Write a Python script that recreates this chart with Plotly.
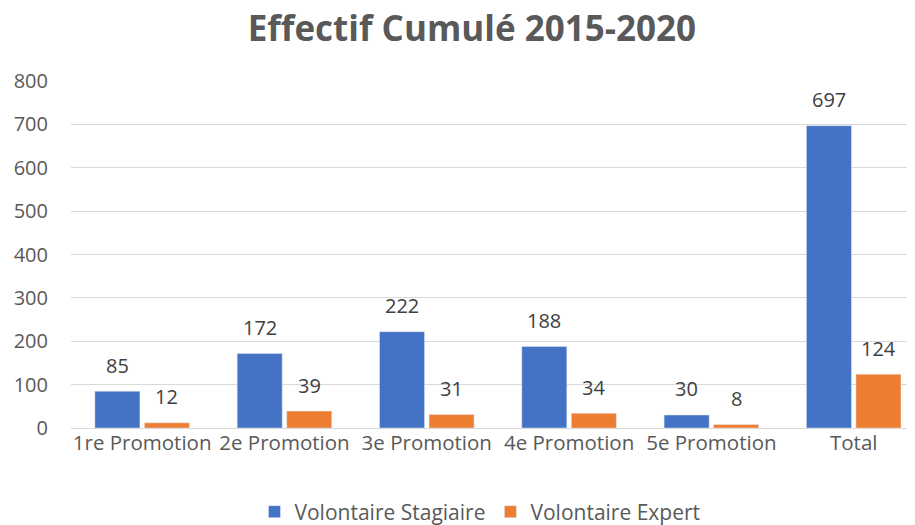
import plotly.graph_objects as go

categories = ["1re Promotion", "2e Promotion", "3e Promotion", "4e Promotion", "5e Promotion", "Total"]
stagiaire = [85, 172, 222, 188, 30, 697]
expert = [12, 39, 31, 34, 8, 124]
y_ticks = [0, 100, 200, 300, 400, 500, 600, 700, 800]

FONT = "Open Sans"
TXT = "#595959"
LBL = "#404040"

fig = go.Figure()
fig.add_trace(go.Bar(
    x=categories, y=stagiaire, name="Volontaire Stagiaire",
    marker=dict(color="#4472C4"),
))
fig.add_trace(go.Bar(
    x=categories, y=expert, name="Volontaire Expert",
    marker=dict(color="#ED7D31"),
))

# data labels above bars
for vals, shift in ((stagiaire, -24.8), (expert, 24.8)):
    for c, v in zip(categories, vals):
        fig.add_annotation(x=c, y=v, xref="x", yref="y", text=str(v),
                           showarrow=False, xshift=shift, yshift=26,
                           yanchor="middle",
                           font=dict(family=FONT, size=20, color=LBL))

fig.update_layout(
    width=915, height=525,
    paper_bgcolor="white", plot_bgcolor="white",
    margin=dict(l=63, r=0, t=73, b=105),
    title=dict(text="<b>Effectif Cumulé 2015-2020</b>", x=0.507, xanchor="center",
               y=0.96, yanchor="middle",
               font=dict(family=FONT, size=35, color=TXT)),
    barmode="group", bargap=0.304, bargroupgap=0.09,
    showlegend=True,
    legend=dict(orientation="h", x=0.48, xanchor="center", y=-0.183, yanchor="top",
                font=dict(family=FONT, size=21, color=TXT), itemwidth=30,
                traceorder="normal"),
    xaxis=dict(range=[-0.5, 5.487], showgrid=False, showline=False, ticks="",
               automargin=False,
               tickfont=dict(family=FONT, size=20.5, color=TXT)),
    yaxis=dict(range=[0, 800], tickvals=y_ticks, showgrid=True, gridcolor="#D9D9D9",
               gridwidth=1, zeroline=True, zerolinecolor="#D9D9D9", zerolinewidth=1,
               ticks="", ticklabelstandoff=22, automargin=False,
               tickfont=dict(family=FONT, size=20, color=TXT)),
)

fig.write_html("out.html", config={"displayModeBar": False})
